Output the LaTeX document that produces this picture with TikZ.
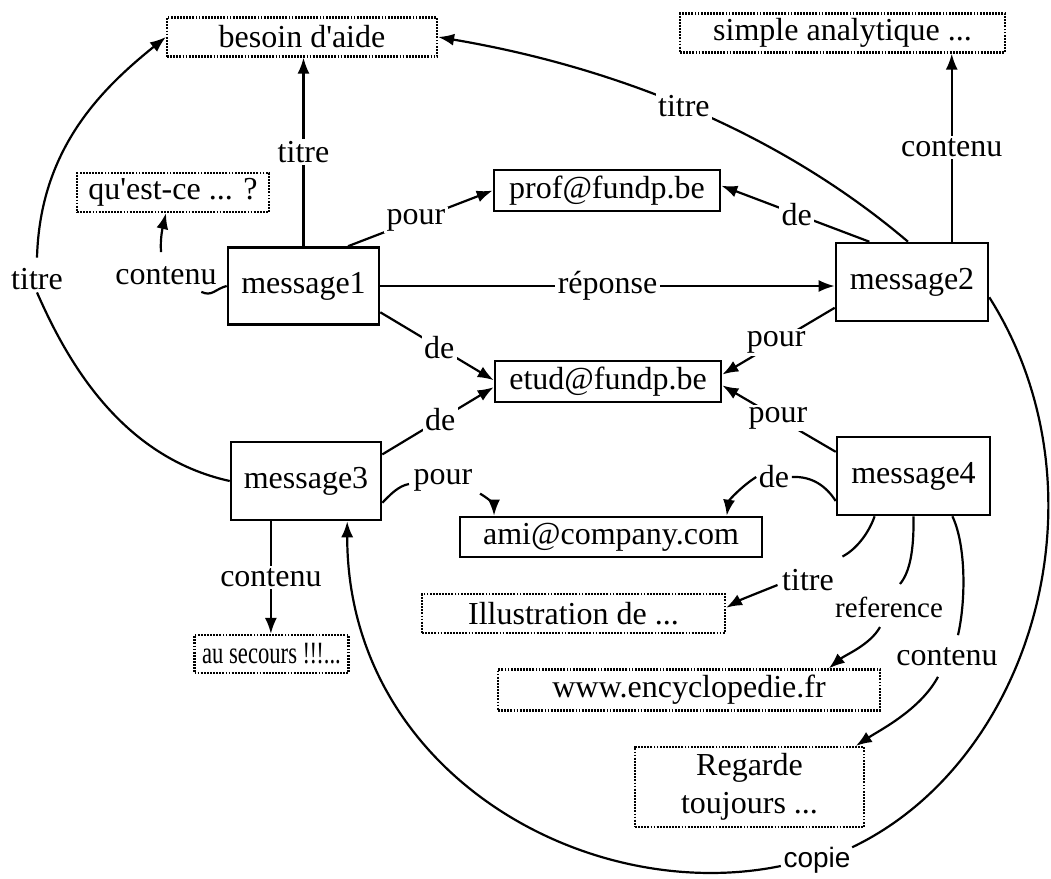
\documentclass[tikz,border=0pt]{standalone}
\usepackage{graphicx}
\usepackage{fontspec}
\setmainfont{Liberation Serif}[Ligatures=TeXOff]
\newfontfamily\copiefont{Liberation Sans}
\usetikzlibrary{arrows.meta,calc}

\begin{document}
\begin{tikzpicture}[x=1pt,y=-1pt,
  every node/.style={font=\fontsize{32}{38}\selectfont},
  msg/.style={draw, line width=2.6pt, minimum width=151pt, minimum height=77pt, inner sep=0pt},
  addr/.style={draw, line width=2.6pt, minimum height=40pt, inner sep=0pt},
  val/.style={draw, line width=2.2pt, dash pattern=on 1.8pt off 1.3pt,
              minimum height=39pt, inner sep=0pt, align=center},
  lbl/.style={fill=white, inner sep=2.5pt},
  con/.style={line width=2.2pt},
  arr/.style={con, -{Latex[length=16pt,width=12pt]}},
]
\fill[white] (0,0) rectangle (1051,878);
\useasboundingbox (0,0) rectangle (1051,878);

% ---- value boxes (dotted) ----
\node[val, minimum width=270pt] (besoin)  at (302,37)    {besoin d'aide};
\node[val, minimum width=325pt] (simple)  at (842.5,33)  {simple analytique ...};
\node[val, minimum width=192pt] (q)       at (173,192.5) {qu'est-ce ... ?};
\node[val, minimum width=303pt] (illus)   at (573.5,613.5) {Illustration de ...};
\node[val, minimum width=382pt, minimum height=41pt] (www) at (689,690) {www.encyclopedie.fr};
\node[val, minimum width=229pt, minimum height=80pt] (regarde) at (749.5,787) {Regarde\\toujours ...};
\node[val, minimum width=154pt, minimum height=38pt, font=\fontsize{31}{36}\selectfont]
     (secours) at (271.5,654) {\scalebox{0.73}[1]{au secours !\kern-1pt!\kern-1pt!...}};

% ---- address boxes ----
\node[addr, minimum width=226pt, minimum height=41pt] (prof) at (607,190.5) {prof@fundp.be};
\node[addr, minimum width=226pt, minimum height=41pt] (etud) at (608,381.5) {etud@fundp.be};
\node[addr, minimum width=302pt] (ami) at (611,537) {ami@company.com};

% ---- messages ----
\node[msg] (m1) at (303.5,286)  {message1};
\node[msg, minimum width=152pt, minimum height=78pt] (m2) at (912,282) {message2};
\node[msg, minimum width=150pt, minimum height=78pt] (m3) at (306,481) {message3};
\node[msg, minimum width=153pt, minimum height=78pt] (m4) at (913.5,476) {message4};

% ---- message1 ----
\draw[arr] (m1.north) -- node[lbl] (t1) {titre} (m1.north |- besoin.south);
\draw[arr] ($(m1.north west)!0.79!(m1.north east)$) -- node[lbl,pos=0.47] (p1) {pour} (prof.west);
\draw[arr] (m1.east) -- node[lbl] (r1) {réponse} (m1.east -| m2.west);
\draw[arr] ($(m1.north east)!0.83!(m1.south east)$) -- node[lbl,pos=0.52] (d1) {de}
      ($(etud.north west)!0.47!(etud.south west)$);
\node[lbl] (c1) at (166,276) {contenu};
\draw[con] (m1.west) .. controls (215,289) and (212,297) .. ($(c1.south east)+(-18,4)$);
\draw[arr] ($(c1.north)+(-5,-12)$) .. controls (160,238) and (163,226) .. ($(q.south)+(-7,0)$);

% ---- message3 ----
\node[lbl] (t3) at (37,279) {titre};
\draw[con] (m3.west) .. controls (121,457) and (67,361) .. (t3.south);
\draw[arr] ($(t3.north)+(0,-8)$) .. controls (40,150) and (100,90) .. (besoin.west);
\draw[arr] ($(m3.north east)!0.17!(m3.south east)$) -- node[lbl,pos=0.52] (d3) {de}
      ($(etud.north west)!0.63!(etud.south west)$);
\node[lbl] (p3) at (443,480) {pour};
\draw[con] ($(m3.north east)!0.77!(m3.south east)$) .. controls (390,495) and (398,486) .. ($(p3.west)+(-2,4)$);
\draw[arr] ($(p3.south east)+(5,0)$) .. controls (488,498) and (494,505) .. ($(ami.north west)!0.116!(ami.north east)$);
\coordinate (m3c) at ($(m3.south west)!0.27!(m3.south east)$);
\draw[arr] (m3c) -- node[lbl] (c3) {contenu} (m3c |- secours.north);

% ---- message2 ----
\draw[arr] ($(m2.north west)!0.224!(m2.north east)$) -- node[lbl,pos=0.49] (d2) {de}
      ($(prof.north east)!0.39!(prof.south east)$);
\draw[arr] ($(m2.north west)!0.474!(m2.north east)$) .. controls (786,138) and (627,69) ..
      node[lbl,pos=0.53] (t2) {titre} (besoin.east);
\coordinate (m2c) at ($(m2.north west)!0.757!(m2.north east)$);
\draw[arr] (m2c) -- node[lbl] (c2) {contenu} (m2c |- simple.south);
\draw[arr] ($(m2.north west)!0.82!(m2.south west)$) -- node[lbl,pos=0.52] (p2) {pour}
      ($(etud.north east)!0.34!(etud.south east)$);

% ---- message4 ----
\draw[arr] ($(m4.north west)!0.2!(m4.south west)$) -- node[lbl,pos=0.51] (p4) {pour}
      ($(etud.north east)!0.59!(etud.south east)$);
\node[lbl] (d4) at (774,477) {de};
\draw[con] ($(m4.north west)!0.81!(m4.south west)$) .. controls (826,486) and (812,476) .. (d4.east);
\draw[arr] (d4.west) .. controls (742,486) and (729,500) .. ($(ami.north west)!0.88!(ami.north east)$);
\node[lbl] (t4) at (808,580) {titre};
\draw[con] ($(m4.south west)!0.25!(m4.south east)$) .. controls (868,535) and (855,550) .. ($(t4.north east)+(6,-10)$);
\draw[arr] ($(t4.west)+(-2,5)$) .. controls (760,592) and (740,600) .. ($(illus.north east)!0.36!(illus.south east)$);
\node[lbl, font=\fontsize{29}{34}\selectfont] (rf) at (889,607) {reference};
\draw[con] (m4.south) .. controls (914,550) and (910,572) .. ($(rf.north)+(11,-10)$);
\draw[arr] ($(rf.south)+(-9,7)$) .. controls (870,645) and (845,655) .. ($(www.north west)!0.864!(www.north east)$);
\node[lbl] (c4) at (947,657) {contenu};
\draw[con] ($(m4.south west)!0.75!(m4.south east)$) .. controls (966,545) and (966,600) .. ($(c4.north)+(11,-10)$);
\draw[arr] ($(c4.south)+(-9,8)$) .. controls (920,710) and (880,730) .. ($(regarde.north west)!0.96!(regarde.north east)$);

% ---- copie ----
\node[lbl, font=\copiefont\fontsize{28}{32}\selectfont] (cp) at (817,860) {copie};
\draw[con] ($(m2.north east)!0.69!(m2.south east)$) .. controls (1111.5,490.5) and (1033.5,760.5) .. ($(cp.north east)+(-1,3)$);
\draw[arr] ($(cp.west)+(0,6)$) .. controls (585,906) and (347,771) .. ($(m3.south west)!0.77!(m3.south east)$);
\end{tikzpicture}
\end{document}
